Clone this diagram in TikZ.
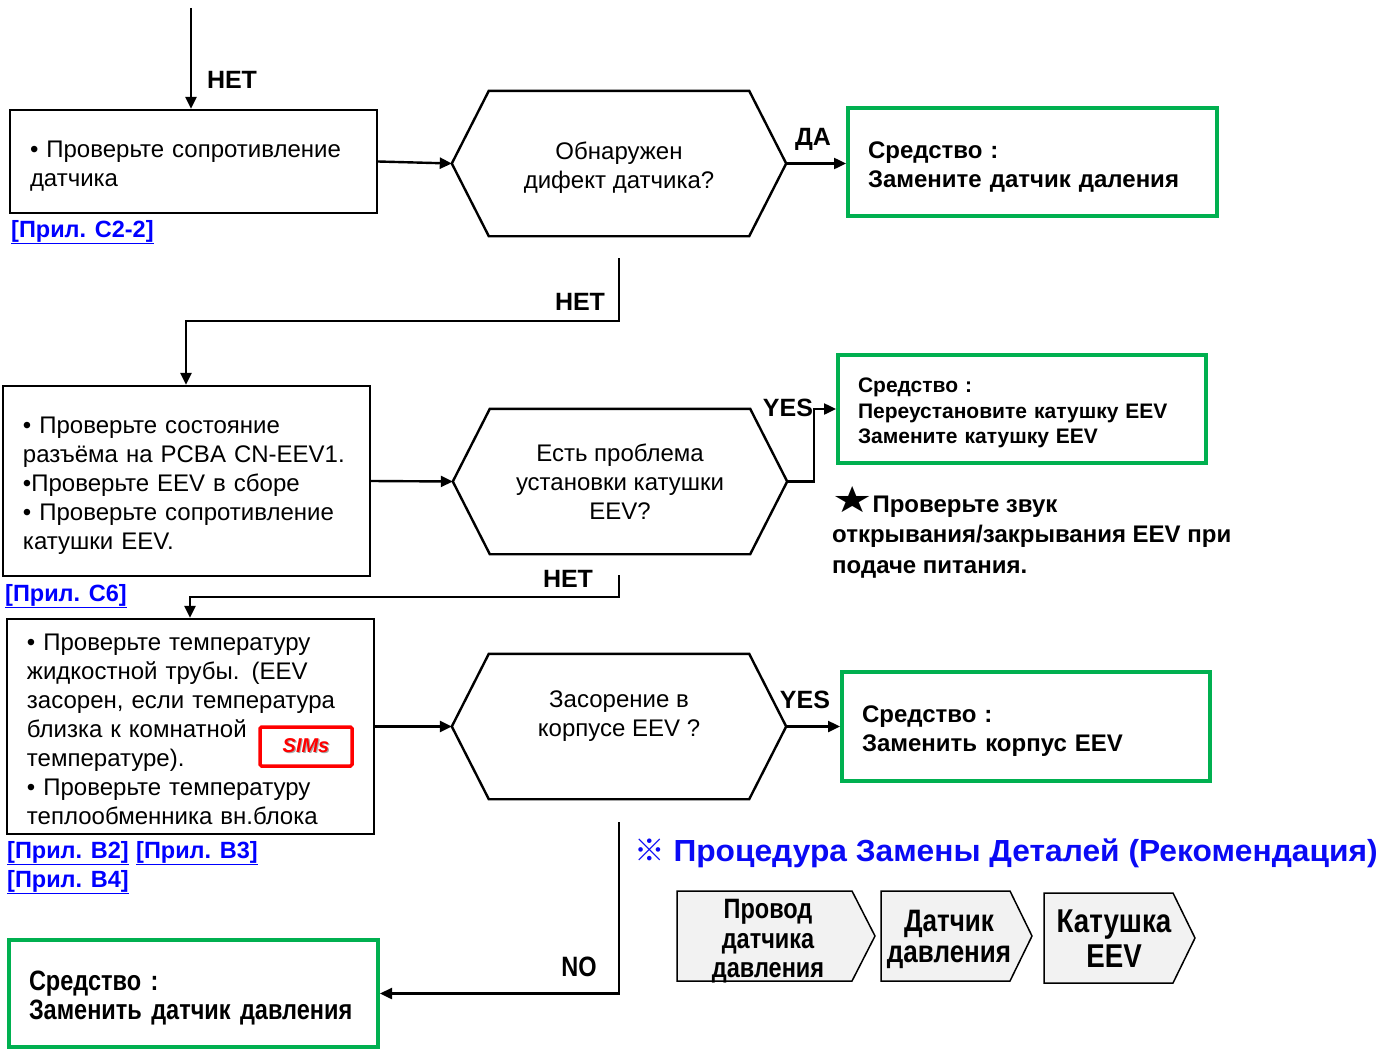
\documentclass[tikz,border=0pt]{standalone}
\usepackage{fontspec}
\usepackage{graphicx}
\setmainfont{Liberation Sans}
\newfontfamily\condf[FakeStretch=0.84]{Liberation Sans}
\newfontfamily\widef[FakeStretch=1.04]{Liberation Sans}
\newfontfamily\dejavu{DejaVu Sans}
\newfontfamily\cjkf{Noto Sans CJK JP}
\usetikzlibrary{arrows.meta,backgrounds,calc}
\definecolor{grn}{RGB}{0,176,80}
\definecolor{lnk}{RGB}{0,0,255}
\definecolor{ttl}{RGB}{10,10,245}
\definecolor{chevfill}{RGB}{242,242,242}
\newcommand\fs[2]{\fontsize{#1}{#2}\selectfont}
\newcommand\tp[1]{\rule{0pt}{#1em}}
\newcommand\dn[1]{\rule[-#1pt]{0pt}{0pt}}
\begin{document}
\begin{tikzpicture}[x=1pt,y=-1pt,
 line/.style={line width=2.4pt, line join=miter},
 arr/.style={line width=2.4pt,-{Triangle[length=12pt,width=11pt]}},
 chk/.style={draw,line width=2.4pt,align=left,inner xsep=20pt,inner ysep=0pt,font=\fs{24}{29}},
 rem/.style={draw=grn,line width=4pt,align=left,inner xsep=20pt,inner ysep=0pt,font=\bfseries\fs{24}{29}},
 hexin/.style={align=center,inner sep=0pt,font=\fs{24}{29}},
 lbl/.style={font=\bfseries\fs{25}{30},inner sep=0pt},
 lnkst/.style={font=\bfseries\fs{23.5}{26},text=lnk,inner sep=0pt,anchor=west},
 chev/.style={align=center,inner sep=0pt},
]
\useasboundingbox (0,0) rectangle (1384,1049);

% ---- row 1
\node[chk, minimum width=367pt, minimum height=103pt, text width=327pt] (b1) at (193.5,161.5)
  {\tp{1.08}• Проверьте сопротивление\\датчика};
\node[lnkst] (l1) at (11,232) {\underline{[Прил. C2-2]}};
\coordinate (top0) at (191,8);
\draw[arr] (top0) -- (top0 |- b1.north);
\node[lbl] (net1) at (232,80) {НЕТ};

\node[hexin, minimum width=260pt, minimum height=145pt] (h1) at (619,163.5) {\tp{1.08}Обнаружен\\дифект датчика?};
\coordinate (h1l) at ([xshift=-37pt]h1.west);
\coordinate (h1r) at ([xshift=37pt]h1.east);
\draw[line] (h1.north west) -- (h1.north east) -- (h1r) -- (h1.south east) -- (h1.south west) -- (h1l) -- cycle;
\draw[arr] (b1.east) -- (h1l);

\node[rem, minimum width=369pt, minimum height=108pt, text width=329pt] (g1) at (1032.5,162)
  {\tp{1.08}Средство :\\Замените датчик даления};
\draw[arr] (h1r) -- (h1r -| g1.west);
\node[lbl] (da) at (813,139) {ДА};

% ---- NET 1
\coordinate (n1a) at (619,258);
\coordinate (n1b) at (186,321);
\node[lbl] (net2) at (580,302) {НЕТ};

% ---- row 2
\node[chk, minimum width=367pt, minimum height=190pt, text width=327pt] (b2) at (186.5,481)
  {\tp{1.1}• Проверьте состояние\\разъёма на PCBA CN-EEV1.\\•Проверьте EEV в сборе\\• Проверьте сопротивление\\катушки EEV.};
\node[lnkst] (l2) at (5,596) {\underline{[Прил. C6]}};
\draw[arr] (n1a) -- (n1a |- n1b) -- (n1b) -- (n1b |- b2.north);

\node[hexin, minimum width=260pt, minimum height=145pt] (h2) at (620,481.5) {Есть проблема\\установки катушки\\EEV?};
\coordinate (h2l) at ([xshift=-37pt]h2.west);
\coordinate (h2r) at ([xshift=37pt]h2.east);
\draw[line] (h2.north west) -- (h2.north east) -- (h2r) -- (h2.south east) -- (h2.south west) -- (h2l) -- cycle;
\draw[arr] (b2.east) -- (h2l);

\node[rem, minimum width=368pt, minimum height=108pt, text width=328pt, font=\bfseries\fs{21}{25.5}] (g2) at (1022,409)
  {\tp{1.08}Средство :\\Переустановите катушку EEV\\Замените катушку EEV};
\coordinate (yx) at (814,0);
\draw[arr] (h2r) -- (h2r -| yx) -- (yx |- g2.west) -- (g2.west);
\node[lbl] (yes1) at (788,408) {YES};

\node[inner sep=0pt, anchor=west, align=left, font=\bfseries\fs{24}{30.5}] (note) at (832,537)
  {\smash{\scalebox{1.25}[1]{\dejavu\fs{36}{30}★}}Проверьте звук\\открывания/закрывания EEV при\\подаче питания.};

% ---- NET 2
\coordinate (n2a) at (619,575);
\coordinate (n2b) at (190,597);
\node[lbl] (net3) at (568,579) {НЕТ};

% ---- row 3
\node[chk, minimum width=367pt, minimum height=215pt, text width=327pt] (b3) at (190.5,726.5)
  {\tp{0.9}• Проверьте температуру\\жидкостной трубы. (EEV\\засорен, если температура\\близка к комнатной\\температуре).\\• Проверьте температуру\\теплообменника вн.блока};
\draw[arr] (n2a) -- (n2a |- n2b) -- (n2b) -- (n2b |- b3.north);
\node[draw=red, line width=3.5pt, rounded corners=1.5pt, minimum width=92pt, minimum height=39pt, inner sep=0pt,
      font=\bfseries\itshape\fs{20}{24}, text=red] (sims) at (306,746.5)
  {\makebox[0pt][l]{\hspace{1.2pt}\raisebox{-1.2pt}{\color{black!35}SIMs}}SIMs};
\node[lnkst] (l3) at (7,853) {\underline{[Прил. B2]}};
\node[lnkst] (l4) at (136,853) {\underline{[Прил. B3]}};
\node[lnkst] (l5) at (7,882) {\underline{[Прил. B4]}};

\node[hexin, minimum width=260pt, minimum height=145pt] (h3) at (619,726.5) {Засорение в\\корпусе EEV ?\dn{25}};
\coordinate (h3l) at ([xshift=-37pt]h3.west);
\coordinate (h3r) at ([xshift=37pt]h3.east);
\draw[line] (h3.north west) -- (h3.north east) -- (h3r) -- (h3.south east) -- (h3.south west) -- (h3l) -- cycle;
\draw[arr] (b3.east) -- (h3l);

\node[rem, minimum width=368pt, minimum height=109pt, text width=328pt] (g3) at (1026,726.5)
  {\tp{1.12}Средство :\\Заменить корпус EEV};
\draw[arr] (h3r) -- (h3r -| g3.west);
\node[lbl] (yes2) at (805,700) {YES};

% ---- NO
\node[rem, minimum width=369pt, minimum height=107pt, text width=329pt, font=\condf\bfseries\fs{28}{29}] (g4) at (193.5,993.5)
  {\tp{1.05}Средство :\\Заменить датчик давления};
\coordinate (n3a) at (619,822);
\draw[arr] (n3a) -- (n3a |- g4.east) -- (g4.east);
\node[lbl, font=\condf\bfseries\fs{28}{30}] (no) at (579,967) {NO};

% ---- replacement procedure
\node[inner sep=0pt, anchor=west, text=ttl, font=\widef\bfseries\fs{30.5}{36}] (title) at (634,853)
  {{\cjkf\bfseries ※} Процедура Замены Деталей (Рекомендация)};
\begin{scope}[on background layer]
  \draw[line width=1.5pt, fill=chevfill, line join=miter] (677,891) -- (852,891) -- (875,936) -- (852,981) -- (677,981) -- cycle;
  \draw[line width=1.5pt, fill=chevfill, line join=miter] (881,891) -- (1010,891) -- (1032,936) -- (1010,981) -- (881,981) -- cycle;
  \draw[line width=1.5pt, fill=chevfill, line join=miter] (1044,893) -- (1173,893) -- (1195,938) -- (1173,983) -- (1044,983) -- cycle;
\end{scope}
\node[chev, font=\condf\bfseries\fs{28}{29.5}] (c1) at (768,941.5) {Провод\\датчика\\давления};
\node[chev, font=\condf\bfseries\fs{31}{31}] (c2) at (949,939.5) {Датчик\\давления};
\node[chev, font=\condf\bfseries\fs{33}{35}] (c3) at (1114,939) {Катушка\\EEV};
\end{tikzpicture}
\end{document}
